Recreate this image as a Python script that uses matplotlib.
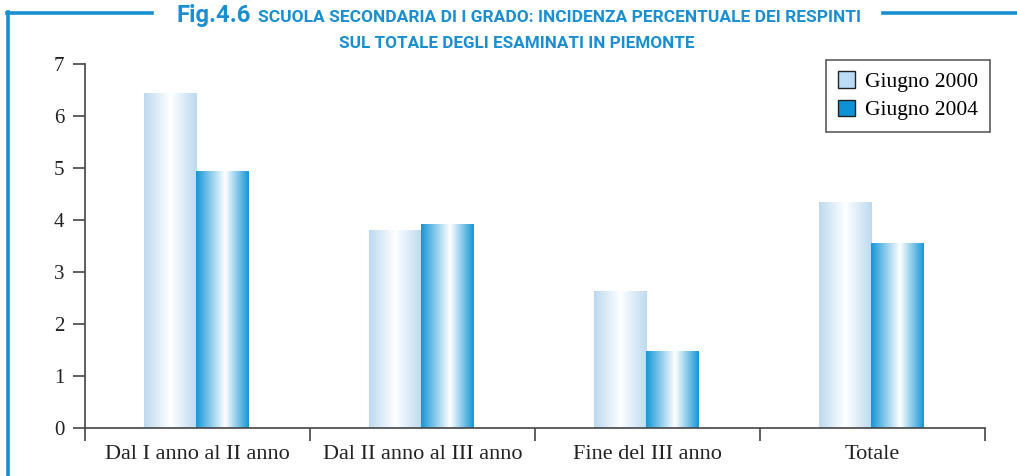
import numpy as np
import matplotlib
matplotlib.use("Agg")
import matplotlib.pyplot as plt
from matplotlib.colors import LinearSegmentedColormap
from matplotlib.lines import Line2D
from matplotlib.patches import Patch

categories = ["Dal I anno al II anno", "Dal II anno al III anno", "Fine del III anno", "Totale"]
series_names = ["Giugno 2000", "Giugno 2004"]
values_2000 = [6.44, 3.79, 2.63, 4.33]
values_2004 = [4.94, 3.92, 1.48, 3.54]
yticks = [0, 1, 2, 3, 4, 5, 6, 7]

BLUE = "#1a8fd0"
light_edge = "#bcd9f0"
dark_edge = "#1596d6"

W, H = 1017, 476
fig = plt.figure(figsize=(W/100, H/100), dpi=100)
ax = fig.add_axes([85/W, 1-428/H, 900/W, (428-64)/H])

x = np.arange(len(categories))
w = 0.235
b1 = ax.bar(x - w/2 - 0.005, values_2000, w, color="none", edgecolor="none")
b2 = ax.bar(x + w/2 - 0.005, values_2004, w, color="none", edgecolor="none")

def grad(edge, mid_pos):
    return LinearSegmentedColormap.from_list("g", [(0, edge), (mid_pos, "#ffffff"), (1, edge)])

cm1 = grad(light_edge, 0.5)
cm2 = grad(dark_edge, 0.55)
g = np.linspace(0, 1, 256).reshape(1, -1)
for bars, cm in ((b1, cm1), (b2, cm2)):
    for r in bars:
        x0, y0 = r.get_x(), r.get_y()
        ax.imshow(g, cmap=cm, aspect="auto", extent=[x0, x0 + r.get_width(), y0, y0 + r.get_height()],
                  interpolation="bicubic", zorder=2)

ax.set_xlim(-0.5, len(categories) - 0.5)
ax.set_ylim(0, 7)
for s in ("top", "right"):
    ax.spines[s].set_visible(False)
for s in ("left", "bottom"):
    ax.spines[s].set_color("#444444")
    ax.spines[s].set_linewidth(1.2)

serif = ["Liberation Serif", "DejaVu Serif"]
ax.set_yticks(yticks)
ax.set_yticklabels([str(v) for v in yticks], fontsize=15, family=serif, color="#222222")
ax.set_xticks(np.arange(len(categories) + 1) - 0.5)
ax.set_xticklabels([])
ax.set_xticks(x, minor=True)
ax.set_xticklabels(categories, minor=True, fontsize=16, family=serif, color="#222222")
ax.tick_params(axis="x", which="major", length=9, width=1.2, color="#444444", direction="out")
ax.tick_params(axis="x", which="minor", length=0, pad=12)
ax.tick_params(axis="y", length=9, width=1.2, color="#444444", pad=6)

handles = [Patch(facecolor="#bcdcf3", edgecolor="#222222", lw=1.0),
           Patch(facecolor="#0f92d4", edgecolor="#222222", lw=1.0)]
leg = ax.legend(handles, series_names, loc="upper right", bbox_to_anchor=(905/900, 1.012),
                prop={"family": serif, "size": 15.5}, frameon=True, fancybox=False,
                edgecolor="#333333", handlelength=0.8, handleheight=0.8, handletextpad=0.45,
                borderpad=0.55, labelspacing=0.35, borderaxespad=0)
leg.get_frame().set_linewidth(1.2)

# frame decorations
ly = 1 - 13/H
fig.add_artist(Line2D([8/W, 8/W], [0, ly + 1.2/H], color=BLUE, lw=2.6, transform=fig.transFigure))
fig.add_artist(Line2D([7/W, 152/W], [ly, ly], color=BLUE, lw=2.6, transform=fig.transFigure))
fig.add_artist(Line2D([883/W, 1.0], [ly, ly], color=BLUE, lw=2.6, transform=fig.transFigure))

tfam = ["Roboto", "DejaVu Sans"]
renderer = fig.canvas.get_renderer()

def fit_text(x0, x1, yb, s, size, ha="left"):
    xp = x0 if ha == "left" else (x0 + x1) / 2
    t = fig.text(xp/W, 1-yb/H, s, color=BLUE, fontsize=size, fontweight="bold",
                 family=tfam, va="baseline", ha=ha)
    bb = t.get_window_extent(renderer)
    t.set_fontsize(size * (x1 - x0) / bb.width)
    return t

fit_text(176, 250, 22, "Fig.4.6", 16)
fit_text(258, 860, 22, "SCUOLA SECONDARIA DI I GRADO: INCIDENZA PERCENTUALE DEI RESPINTI", 11)
fit_text(339, 695, 48, "SUL TOTALE DEGLI ESAMINATI IN PIEMONTE", 11, ha="center")

fig.savefig("out.png", dpi=100)
